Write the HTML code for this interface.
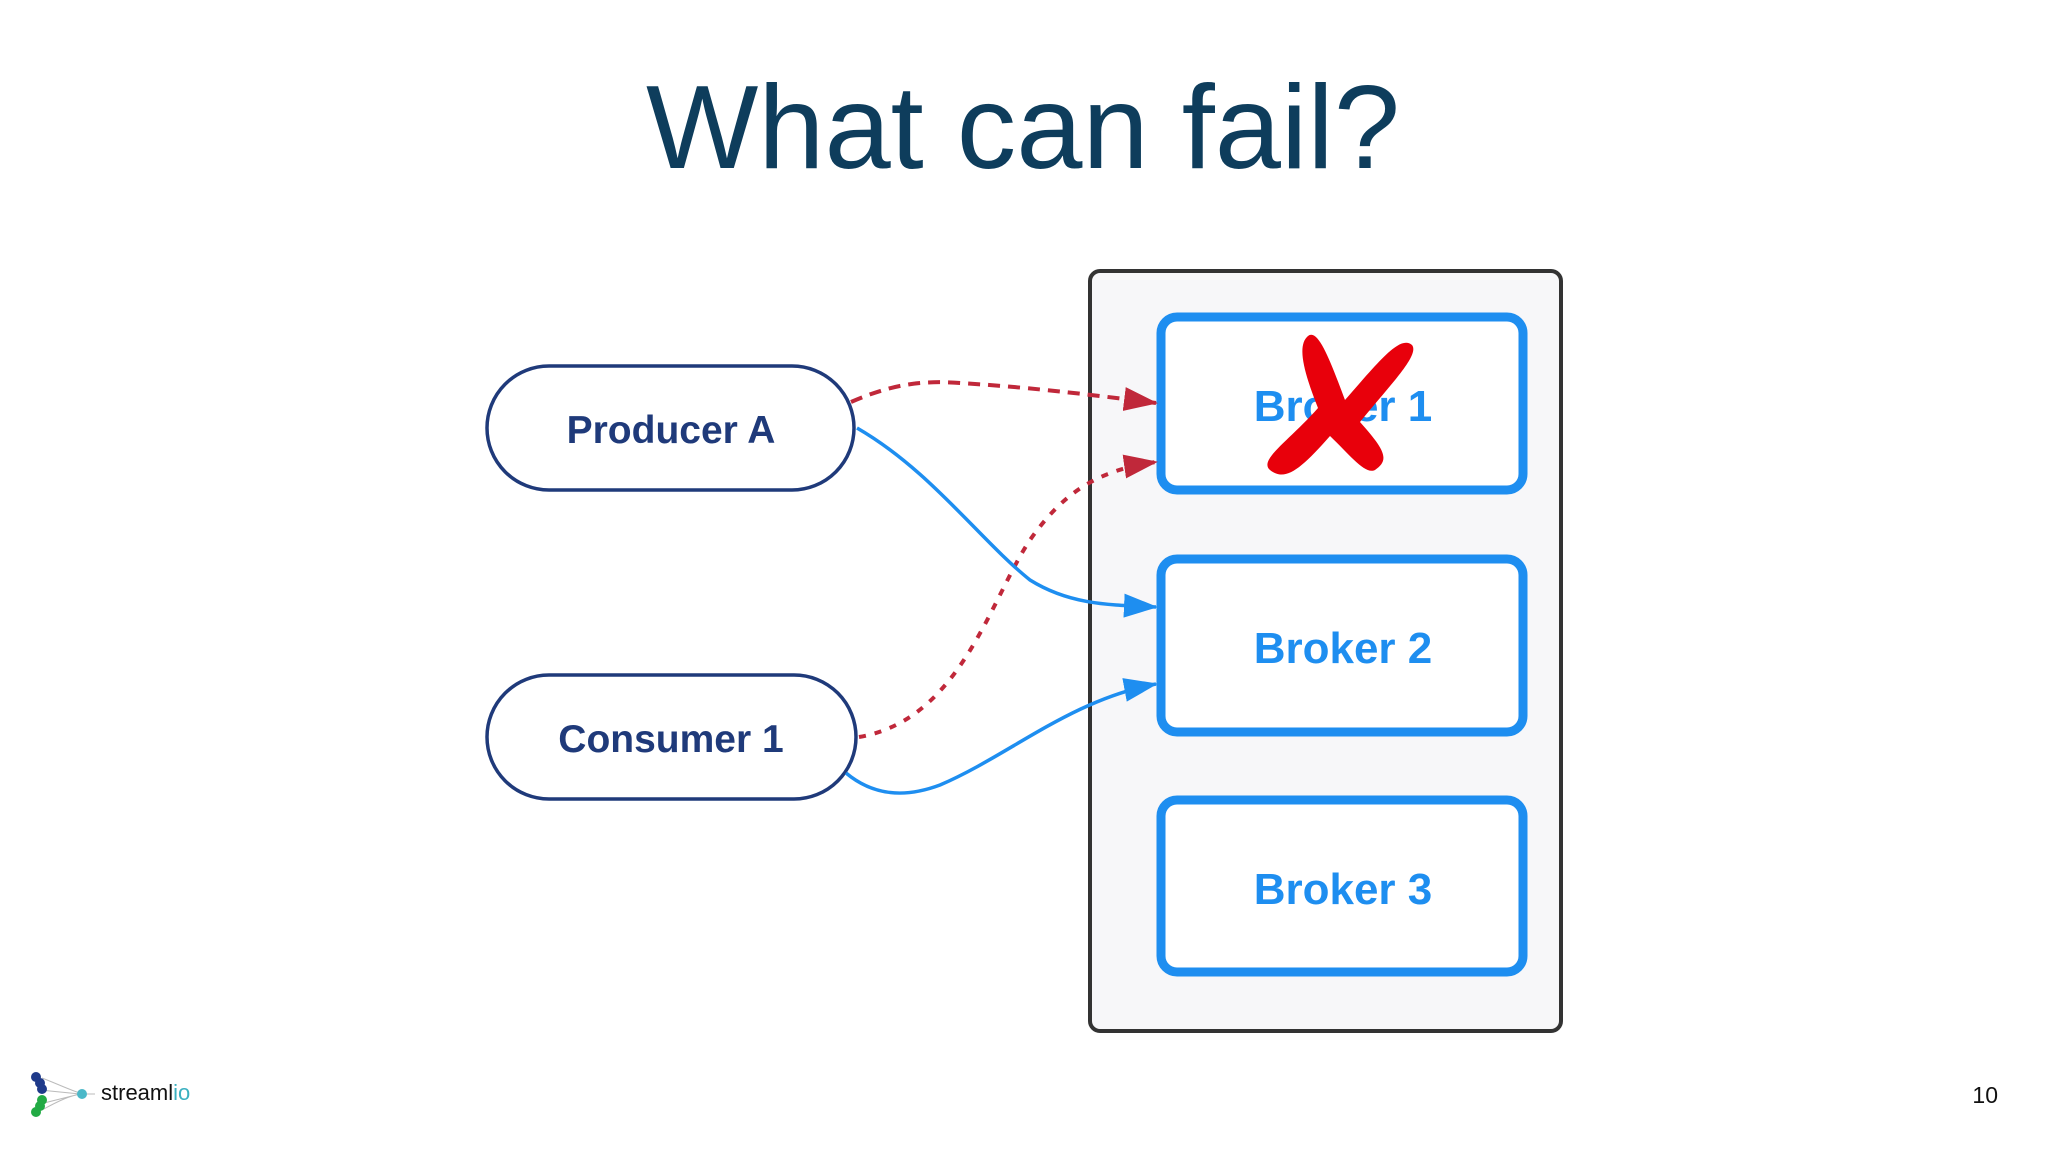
<!DOCTYPE html>
<html><head><meta charset="utf-8"><style>
html,body{margin:0;padding:0;background:#fff;}
body{width:2048px;height:1152px;overflow:hidden;position:relative;font-family:"Liberation Sans",sans-serif;}
</style></head><body>
<svg width="2048" height="1152" viewBox="0 0 2048 1152" xmlns="http://www.w3.org/2000/svg" style="position:absolute;left:0;top:0">
<defs>
<marker id="ar" markerWidth="34" markerHeight="24" refX="32" refY="12" orient="auto" markerUnits="userSpaceOnUse" viewBox="0 0 34 24"><path d="M0,0 L34,12 L0,24 z" fill="#c0283a"/></marker>
<marker id="ab" markerWidth="34" markerHeight="24" refX="32" refY="12" orient="auto" markerUnits="userSpaceOnUse" viewBox="0 0 34 24"><path d="M0,0 L34,12 L0,24 z" fill="#1e8ef0"/></marker>
</defs>
<text x="1023" y="168" text-anchor="middle" font-family="Liberation Sans, sans-serif" font-size="119" fill="#0e3d5c">What can fail?</text>
<rect x="1090" y="271" width="471" height="760" rx="10" fill="#f7f7f9" stroke="#333" stroke-width="4"/>
<rect x="1161" y="317" width="362" height="173" rx="16" fill="#fff" stroke="#1e8ef0" stroke-width="9"/>
<rect x="1161" y="559" width="362" height="173" rx="16" fill="#fff" stroke="#1e8ef0" stroke-width="9"/>
<rect x="1161" y="800" width="362" height="172" rx="16" fill="#fff" stroke="#1e8ef0" stroke-width="9"/>
<g font-family="Liberation Sans, sans-serif" font-weight="bold" font-size="44" fill="#1e8ef0" text-anchor="middle">
<text x="1343" y="421">Broker 1</text>
<text x="1343" y="663">Broker 2</text>
<text x="1343" y="904">Broker 3</text>
</g>
<rect x="487" y="366" width="367" height="124" rx="62" fill="#fff" stroke="#1f3a7a" stroke-width="3.5"/>
<rect x="487" y="675" width="369" height="124" rx="62" fill="#fff" stroke="#1f3a7a" stroke-width="3.5"/>
<g font-family="Liberation Sans, sans-serif" font-weight="bold" font-size="39" fill="#1f3a7a" text-anchor="middle">
<text x="671" y="443">Producer A</text>
<text x="671" y="752">Consumer 1</text>
</g>
<path d="M851,402 C890,385 920,380 960,383 C1040,388 1100,396 1156,403" fill="none" stroke="#c0283a" stroke-width="4" stroke-dasharray="12,8" marker-end="url(#ar)"/>
<path d="M859,737 C960,720 990,600 1030,540 C1065,490 1100,470 1156,462" fill="none" stroke="#c0283a" stroke-width="4" stroke-dasharray="7,9" marker-end="url(#ar)"/>
<path d="M857,428 C930,470 980,540 1030,580 C1070,605 1110,605 1156,607" fill="none" stroke="#1e8ef0" stroke-width="3.5" marker-end="url(#ab)"/>
<path d="M846,773 C870,793 900,800 940,785 C1010,755 1070,700 1156,684" fill="none" stroke="#1e8ef0" stroke-width="3.5" marker-end="url(#ab)"/>
<path d="M1308,336 C1318,328 1330,360 1345,400 C1380,360 1400,335 1412,345 C1420,355 1390,385 1360,422 C1385,450 1390,460 1375,470 C1365,475 1350,455 1330,436 C1300,470 1285,482 1270,470 C1258,460 1290,440 1318,408 C1305,375 1296,346 1308,336 Z" fill="#e8000b"/>
<g>
<path d="M42,1078 C60,1085 70,1090 80,1093 M42,1110 C60,1100 70,1096 80,1094 M40,1090 L80,1094 M40,1104 L80,1094" stroke="#bbb" stroke-width="1" fill="none"/>
<circle cx="36" cy="1077" r="5" fill="#1f3a8a"/><circle cx="40" cy="1083" r="5" fill="#1f3a8a"/><circle cx="42" cy="1089" r="5" fill="#1f3a8a"/>
<circle cx="42" cy="1100" r="5" fill="#22aa44"/><circle cx="40" cy="1106" r="5" fill="#22aa44"/><circle cx="36" cy="1112" r="5" fill="#22aa44"/>
<line x1="80" y1="1094" x2="95" y2="1094" stroke="#bbb" stroke-width="1"/>
<circle cx="82" cy="1094" r="5" fill="#4bb8c8"/>
<text x="101" y="1100" font-family="Liberation Sans, sans-serif" font-size="22" fill="#111">streaml<tspan fill="#3bb0c0">io</tspan></text>
</g>
<text x="1998" y="1103" text-anchor="end" font-family="Liberation Sans, sans-serif" font-size="23" fill="#111">10</text>
</svg>
</body></html>
